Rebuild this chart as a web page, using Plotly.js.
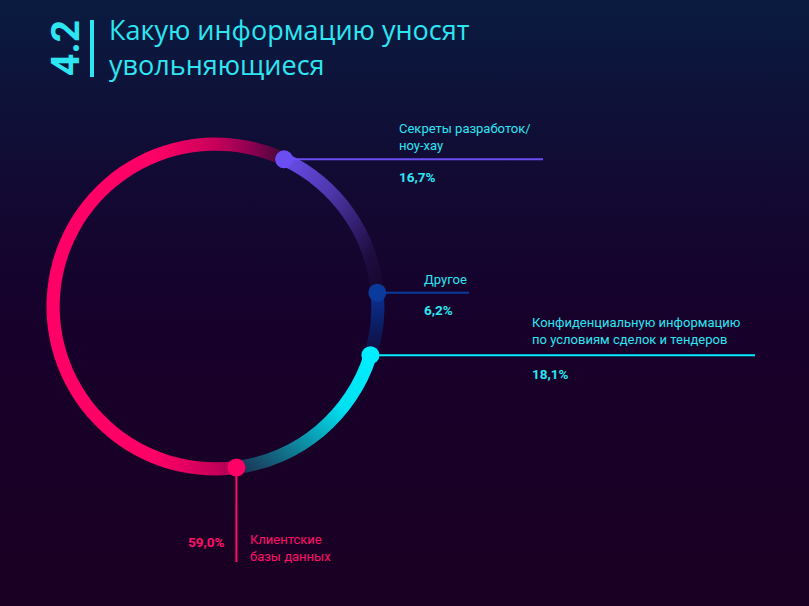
<!DOCTYPE html>
<html>
<head>
<meta charset="utf-8">
<script src="https://cdn.plot.ly/plotly-3.0.1.min.js"></script>
<style>
html,body{margin:0;padding:0;width:809px;height:606px;overflow:hidden;}
body{background:linear-gradient(to bottom,#0a1b40 0%,#120a33 30%,#17002a 55%,#1a0022 100%);}
#chart{width:809px;height:606px;}
</style>
</head>
<body>
<div id="chart"></div>
<script>
// ---- data ----
const categories = ["Секреты разработок/<br>ноу-хау", "Другое", "Конфиденциальную информацию<br>по условиям сделок и тендеров", "Клиентские<br>базы данных"];
const values = [16.7, 6.2, 18.1, 59.0];
const valueLabels = ["16,7%", "6,2%", "18,1%", "59,0%"];
const sliceColors = ["#6b4ef2", "#0a3a9c", "#00eeff", "#ff0066"];
const chartNumber = "4.2";
const chartTitle = "Какую информацию уносят<br>увольняющиеся";

// ---- geometry / style ----
const W = 809, H = 606;
const cx = 215.5, cy = 306.5, R = 169, hole = 0.922;
const rotation = 25;
const midR = R * (1 + hole) / 2;
const px = x => x / W, py = y => 1 - y / H;
const cyan = "#2ee6f2", pink = "#ff0f6a";
const fontFam = "Roboto, 'Noto Sans', sans-serif";
const titleFam = "'Open Sans', Roboto, sans-serif";

const total = values.reduce((a, b) => a + b, 0);
let cum = 0;
const dotPos = values.map(v => {
  const ang = (rotation + cum / total * 360) * Math.PI / 180;
  cum += v;
  return {x: cx + midR * Math.sin(ang), y: cy - midR * Math.cos(ang)};
});

const shapes = [];
const annotations = [];

// title pieces
annotations.push({xref:'paper', yref:'paper', x:px(66), y:py(48), text:'<b>'+chartNumber+'</b>', textangle:-90,
  showarrow:false, font:{family:fontFam, size:39, color:cyan}, xanchor:'center', yanchor:'middle'});
shapes.push({type:'line', xref:'paper', yref:'paper', x0:px(92), x1:px(92), y0:py(20), y1:py(77), line:{color:cyan, width:4}});
annotations.push({xref:'paper', yref:'paper', x:px(107), y:py(9), text:chartTitle, showarrow:false,
  xanchor:'left', yanchor:'top', align:'left', font:{family:titleFam, size:27, color:cyan}});

// leader lines and labels
const lineEnds = [543, 469, 755];
const textX = [397, 422, 530];
const textDy = [-22, -13, -24];
const pctDy = [18, 17, 19];
for (let i = 0; i < 3; i++) {
  const d = dotPos[i];
  shapes.push({type:'line', xref:'paper', yref:'paper', x0:px(d.x), x1:px(lineEnds[i]), y0:py(d.y), y1:py(d.y),
    line:{color:sliceColors[i], width:2}});
  annotations.push({xref:'paper', yref:'paper', x:px(textX[i]), y:py(d.y + textDy[i]), text:categories[i],
    showarrow:false, xanchor:'left', yanchor:'middle', align:'left', font:{family:fontFam, size:13, color:cyan}});
  annotations.push({xref:'paper', yref:'paper', x:px(textX[i]), y:py(d.y + pctDy[i]), text:'<b>'+valueLabels[i]+'</b>',
    showarrow:false, xanchor:'left', yanchor:'middle', font:{family:fontFam, size:13.5, color:cyan}});
}
// bottom (client) leader
const dc = dotPos[3];
shapes.push({type:'line', xref:'paper', yref:'paper', x0:px(dc.x), x1:px(dc.x), y0:py(dc.y), y1:py(562), line:{color:pink, width:2}});
annotations.push({xref:'paper', yref:'paper', x:px(dc.x - 9), y:py(542), text:'<b>'+valueLabels[3]+'</b>',
  showarrow:false, xanchor:'right', yanchor:'middle', font:{family:fontFam, size:13.5, color:pink}});
annotations.push({xref:'paper', yref:'paper', x:px(dc.x + 12), y:py(548), text:categories[3],
  showarrow:false, xanchor:'left', yanchor:'middle', align:'left', font:{family:fontFam, size:13, color:pink}});

// dots
dotPos.forEach((d, i) => {
  shapes.push({type:'circle', xref:'paper', yref:'paper', xsizemode:'pixel', ysizemode:'pixel',
    xanchor:px(d.x), yanchor:py(d.y), x0:-9, x1:9, y0:-9, y1:9,
    fillcolor:sliceColors[i], line:{width:0}});
});

const trace = {
  type:'pie', values:values, labels:categories, sort:false, direction:'clockwise', rotation:rotation,
  hole:hole, textinfo:'none', hoverinfo:'skip', showlegend:false,
  marker:{colors:sliceColors, line:{width:0}},
  domain:{x:[px(cx - R), px(cx + R)], y:[py(cy + R), py(cy - R)]}
};

const layout = {
  width:W, height:H, margin:{l:0, r:0, t:0, b:0},
  paper_bgcolor:'rgba(0,0,0,0)', plot_bgcolor:'rgba(0,0,0,0)',
  shapes:shapes, annotations:annotations, showlegend:false
};

// per-slice gradients (style only)
const grads = [
  {id:'g0', x1:0, y1:0, x2:1, y2:1, stops:[[0,'#6c4ff2'],[0.4,'#4b35a6'],[0.8,'#1e0c40'],[1,'#16062c']]},
  {id:'g1', x1:0, y1:0, x2:0, y2:1, stops:[[0,'#0a3296'],[0.5,'#0c1e64'],[1,'#100a3a']]},
  {id:'g2', x1:1, y1:0, x2:0, y2:1, stops:[[0,'#00f0ff'],[0.35,'#00e0f0'],[0.7,'#107a92'],[1,'#1c2a4c']]},
  {id:'g3', x1:0, y1:0.5, x2:1, y2:0.5, stops:[[0,'#ff0066'],[0.45,'#ff0066'],[0.7,'#c8005a'],[0.86,'#8a0050'],[1,'#380a36']]}
];

Plotly.newPlot('chart', [trace], layout, {staticPlot:true, displayModeBar:false}).then(gd => {
  const svg = gd.querySelector('svg.main-svg');
  let defs = svg.querySelector('defs');
  const NS = 'http://www.w3.org/2000/svg';
  grads.forEach(g => {
    const lg = document.createElementNS(NS, 'linearGradient');
    lg.setAttribute('id', g.id);
    lg.setAttribute('x1', g.x1); lg.setAttribute('y1', g.y1);
    lg.setAttribute('x2', g.x2); lg.setAttribute('y2', g.y2);
    g.stops.forEach(s => {
      const st = document.createElementNS(NS, 'stop');
      st.setAttribute('offset', s[0]); st.setAttribute('stop-color', s[1]);
      lg.appendChild(st);
    });
    defs.appendChild(lg);
  });
  const paths = gd.querySelectorAll('.pielayer .slice path.surface');
  paths.forEach((p, i) => { if (grads[i]) p.style.fill = 'url(#' + grads[i].id + ')'; });
});
</script>
</body>
</html>
